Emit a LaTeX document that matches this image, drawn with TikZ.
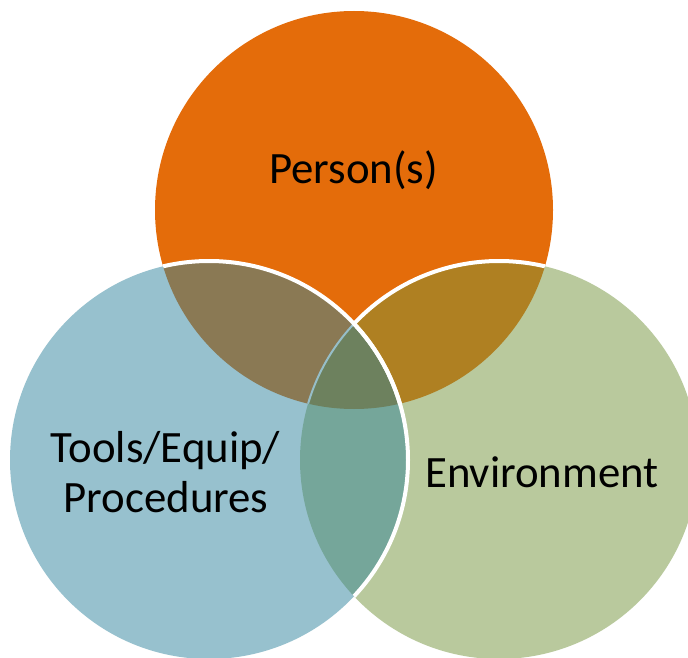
\documentclass[tikz,border=0pt]{standalone}
\usepackage{fontspec}
\setmainfont{Carlito}
\definecolor{cO}{RGB}{228,108,10}
\definecolor{cB}{RGB}{151,193,206}
\definecolor{cG}{RGB}{185,201,157}
\definecolor{cOB}{RGB}{138,121,84}
\definecolor{cOG}{RGB}{175,128,34}
\definecolor{cBG}{RGB}{117,166,154}
\definecolor{cAll}{RGB}{109,129,94}
\definecolor{cLine}{RGB}{150,190,200}
\tikzset{
  lbl/.style={anchor=base, inner sep=0pt, text=black, font=\fontsize{44.8}{50}\selectfont},
  rim/.style={draw=white, line width=4pt}
}
\begin{document}
\begin{tikzpicture}[x=1pt,y=-1pt]
\useasboundingbox (0,0) rectangle (688,658);
\fill[white] (0,0) rectangle (688,658);
\clip (0,0) rectangle (688,658);
\coordinate (T) at (354,210);
\coordinate (L) at (209,460);
\coordinate (R) at (499,460);
\def\rr{199pt}
% base circles
\fill[cO] (T) circle[radius=\rr];
\fill[cG] (R) circle[radius=\rr];
\fill[cB] (L) circle[radius=\rr];
% pairwise overlaps
\begin{scope}\clip (T) circle[radius=\rr]; \fill[cOB] (L) circle[radius=\rr]; \end{scope}
\begin{scope}\clip (T) circle[radius=\rr]; \fill[cOG] (R) circle[radius=\rr]; \end{scope}
\begin{scope}\clip (L) circle[radius=\rr]; \fill[cBG] (R) circle[radius=\rr]; \end{scope}
\begin{scope}\clip (T) circle[radius=\rr]; \clip (L) circle[radius=\rr]; \fill[cAll] (R) circle[radius=\rr]; \end{scope}
% outlines
\begin{scope}[even odd rule]
  \clip (T) circle[radius=\rr];
  \clip (-50,-50) rectangle (750,720) (L) circle[radius=\rr];
  \draw[rim] (R) circle[radius=\rr];
\end{scope}
\begin{scope}\clip (T) circle[radius=\rr]; \clip (L) circle[radius=\rr]; \draw[draw=cLine, line width=2pt] (R) circle[radius=\rr]; \end{scope}
\begin{scope}\clip (T) circle[radius=\rr]; \draw[rim] (L) circle[radius=\rr]; \end{scope}
\begin{scope}\clip (R) circle[radius=\rr]; \draw[rim] (L) circle[radius=\rr]; \end{scope}
% labels
\node[lbl] (person) at (353.5,183) {Person(s)};
\node[lbl] (tools) at (165.5,462) {Tools/Equip/};
\node[lbl] (proc) at (166,512) {Procedures};
\node[lbl] (env) at (542,487) {Environment};
\end{tikzpicture}
\end{document}
